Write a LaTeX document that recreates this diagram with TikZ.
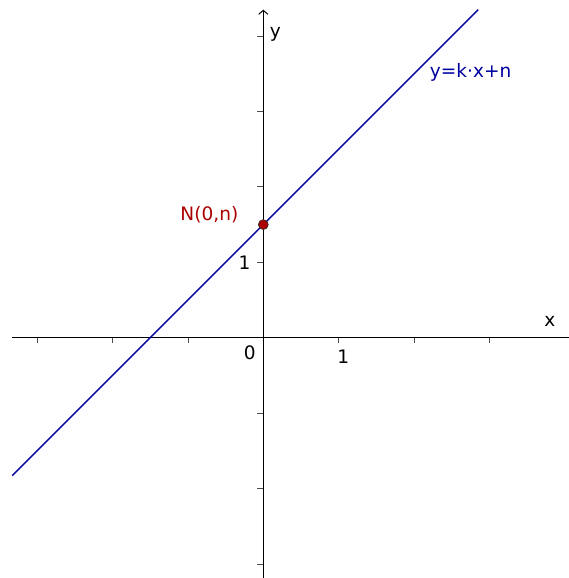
\documentclass[tikz,border=0pt]{standalone}
\usepackage{fontspec}
\setmainfont{DejaVu Sans}
\usepackage{xcolor}
\usetikzlibrary{calc, positioning}
\usetikzlibrary{arrows.meta}

\definecolor{linieblue}{RGB}{0,0,160}
\definecolor{punktred}{RGB}{170,0,0}

\begin{document}
\begin{tikzpicture}[x=2cm, y=2cm, font=\fontsize{14}{16}\selectfont,
  axis/.style={line width=0.75pt, black},
  tick/.style={line width=0.6pt, black!70},
  graph/.style={line width=1pt, linieblue}]
\def\u{75.4}
\def\n{1.5}
\def\xmin{-3.33}
\def\xmax{4.05}
\def\ymin{-3.2}
\def\ymax{4.35}

\useasboundingbox (-263.3/\u,-240.3/\u) rectangle (304.7/\u,337.7/\u);

\coordinate (O) at (0,0);
\coordinate (N) at (0,\n);
\coordinate (A) at (\xmin,\xmin+\n);
\coordinate (B) at (\ymax-\n,\ymax);

\draw[axis] (\xmin,0) -- (\xmax,0);
\draw[axis, -{Straight Barb[length=3pt, width=7pt]}] (0,\ymin) -- (0,\ymax);

\foreach \i in {-3,-2,-1,1,2,3}
  \draw[tick] (\i,0) -- (\i,-0.07);
\foreach \j in {-3,-2,-1,1,2,3,4}
  \draw[tick] (0,\j) -- (-0.08,\j);

\node (xl) at (3.8,0.22) {x};
\node (yl) at (0.16,4.02) {y};
\node (nul) at (-0.18,-0.2) {0};
\node (ex) at (1.06,-0.25) {1};
\node (ey) at (-0.25,1.0) {1};

\draw[graph] (A) -- (B);
\node[linieblue] (gl) at (2.75,3.52) {y=k·x+n};

\filldraw[fill=punktred, draw=black!80, line width=0.5pt] (N) circle (0.066);
\node[punktred, anchor=east] (Nl) at (-0.27,1.63) {N(0,n)};

\end{tikzpicture}
\end{document}
